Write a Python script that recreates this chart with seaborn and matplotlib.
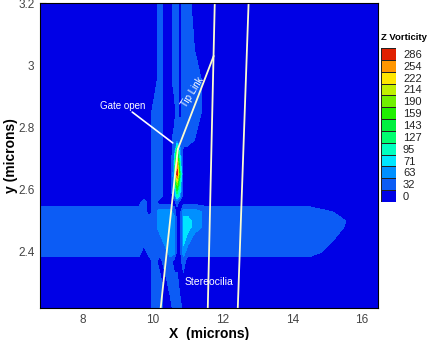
import numpy as np
import matplotlib
matplotlib.use("Agg")
import matplotlib.pyplot as plt
from matplotlib.colors import ListedColormap, BoundaryNorm
import seaborn as sns

x_vals = [6.77, 8.5, 9.3, 9.6, 9.75, 9.9, 10.05, 10.2, 10.35, 10.5, 10.62, 10.7,
          10.78, 10.88, 11.0, 11.2, 11.6, 12.5, 13.5, 14.5, 15.2, 15.7, 16.46]
y_vals = [2.22, 2.30, 2.37, 2.40, 2.44, 2.48, 2.50, 2.53, 2.56, 2.58, 2.62, 2.65,
          2.68, 2.72, 2.76, 2.85, 2.95, 3.05, 3.2]

vorticity = [
    [0, 0, 0, 0, 0, 0, 32, 32, 0, 0, 32, 32, 32, 0, 0, 0, 0, 0, 0, 0, 0, 0, 0],
    [0, 0, 0, 0, 0, 0, 32, 32, 0, 32, 32, 32, 0, 0, 0, 0, 0, 0, 0, 0, 0, 0, 0],
    [0, 0, 0, 0, 0, 0, 32, 0, 32, 32, 0, 0, 0, 32, 0, 0, 0, 0, 0, 0, 0, 0, 0],
    [32, 32, 32, 32, 0, 32, 32, 32, 32, 63, 63, 0, 0, 63, 32, 32, 32, 32, 32, 32, 0, 0, 0],
    [32, 32, 32, 32, 32, 32, 32, 32, 63, 63, 63, 0, 0, 71, 63, 32, 32, 32, 32, 32, 16, 0, 0],
    [32, 32, 32, 32, 32, 32, 32, 63, 63, 63, 63, 0, 0, 71, 71, 63, 32, 32, 32, 32, 32, 4, 0],
    [32, 32, 32, 32, 32, 32, 32, 63, 63, 63, 63, 0, 0, 71, 71, 63, 32, 32, 32, 32, 32, 8, 0],
    [32, 32, 32, 32, 32, 0, 32, 63, 63, 63, 32, 0, 0, 63, 63, 63, 32, 32, 32, 32, 14, 0, 0],
    [0, 0, 0, 0, 32, 0, 32, 0, 0, 0, 0, 32, 0, 0, 0, 0, 0, 0, 0, 0, 0, 0, 0],
    [0, 0, 0, 0, 0, 0, 32, 32, 0, 0, 32, 95, 63, 0, 0, 0, 0, 0, 0, 0, 0, 0, 0],
    [0, 0, 0, 0, 0, 0, 32, 32, 0, 0, 63, 190, 95, 0, 0, 0, 0, 0, 0, 0, 0, 0, 0],
    [0, 0, 0, 0, 0, 0, 32, 32, 0, 0, 71, 286, 127, 0, 0, 0, 0, 0, 0, 0, 0, 0, 0],
    [0, 0, 0, 0, 0, 0, 32, 32, 0, 0, 63, 254, 95, 0, 0, 0, 0, 0, 0, 0, 0, 0, 0],
    [0, 0, 0, 0, 0, 0, 32, 32, 0, 0, 32, 159, 63, 0, 0, 0, 0, 0, 0, 0, 0, 0, 0],
    [0, 0, 0, 0, 0, 0, 32, 32, 0, 0, 32, 32, 32, 32, 32, 16, 0, 0, 0, 0, 0, 0, 0],
    [0, 0, 0, 0, 0, 0, 32, 32, 0, 0, 0, 32, 0, 32, 32, 32, 0, 0, 0, 0, 0, 0, 0],
    [0, 0, 0, 0, 0, 0, 0, 32, 0, 0, 32, 32, 0, 32, 32, 32, 0, 0, 0, 0, 0, 0, 0],
    [0, 0, 0, 0, 0, 0, 0, 32, 0, 0, 32, 32, 0, 32, 32, 16, 0, 0, 0, 0, 0, 0, 0],
    [0, 0, 0, 0, 0, 0, 0, 32, 0, 0, 32, 32, 0, 32, 32, 0, 0, 0, 0, 0, 0, 0, 0],
]

# valores de la leyenda, de abajo hacia arriba
level_labels = [0, 32, 63, 71, 95, 127, 143, 159, 190, 214, 222, 254, 286]
band_colors = ["#0000e6", "#0c5cf5", "#0090ff", "#00e6ff", "#00ffc0", "#00ff70",
               "#00f040", "#20f000", "#70f000", "#c0f000", "#ffe600", "#ff9600", "#e02000"]

stereocilia_x = [[10.23, 10.72], [11.58, 11.78], [12.44, 12.75]]
stereocilia_y = [[2.22, 2.73], [2.22, 3.2], [2.22, 3.2]]
tip_link_x = [10.72, 11.75]
tip_link_y = [2.73, 3.03]

LINE_COLOR = "#fbfbd0"

sns.set_theme(style="ticks")
plt.rcParams["font.family"] = ["Liberation Sans", "DejaVu Sans"]

fig = plt.figure(figsize=(4.3, 3.4), dpi=100)
ax = fig.add_axes([40 / 430, 32 / 340, 338 / 430, 305 / 340])

mids = [(a + b) / 2 for a, b in zip(level_labels[:-1], level_labels[1:])]
bounds = [-20] + mids + [320]
cmap = ListedColormap(band_colors)
norm = BoundaryNorm(bounds, cmap.N)
ax.contourf(x_vals, y_vals, np.array(vorticity), levels=bounds, cmap=cmap, norm=norm)

# cilios y tip link
for xs, ys in zip(stereocilia_x, stereocilia_y):
    sns.lineplot(x=xs, y=ys, ax=ax, sort=False, color=LINE_COLOR, lw=1.3, errorbar=None)
sns.lineplot(x=tip_link_x, y=tip_link_y, ax=ax, sort=False, color=LINE_COLOR, lw=1.3, errorbar=None)

ax.annotate("", xy=(10.64, 2.745), xytext=(9.35, 2.855),
            arrowprops=dict(arrowstyle="-", color="white", lw=1.2))
ax.text(9.15, 2.87, "Gate open", color="white", fontsize=7, ha="center", va="center")
ax.text(11.15, 2.914, "Tip Link", color="white", fontsize=7, rotation=58, ha="center", va="center")
ax.text(11.62, 2.305, "Stereocilia", color="white", fontsize=7.5, ha="center", va="center")

ax.set_xlim(6.77, 16.46)
ax.set_ylim(2.22, 3.2)
ax.set_xticks([8, 10, 12, 14, 16])
ax.set_yticks([2.4, 2.6, 2.8, 3.0, 3.2])
ax.set_yticklabels(["2.4", "2.6", "2.8", "3", "3.2"])
ax.tick_params(direction="in", length=4, width=0.8, color="black", labelsize=8.5,
               labelcolor="#444444", pad=4)
ax.set_xlabel("X  (microns)", fontsize=10, fontweight="bold", labelpad=1, color="black")
ax.set_ylabel("y (microns)", fontsize=10, fontweight="bold", labelpad=0, color="black")
for s in ax.spines.values():
    s.set_linewidth(0.8)
    s.set_color("black")

# leyenda de bandas
cax = fig.add_axes([381 / 430, (340 - 202) / 340, 15 / 430, 154 / 340])
bands = np.arange(len(level_labels))[::-1].reshape(-1, 1)
sns.heatmap(bands, ax=cax, cmap=cmap, cbar=False, linewidths=0.4, linecolor="#222222",
            xticklabels=False, yticklabels=[str(v) for v in level_labels[::-1]])
cax.yaxis.tick_right()
cax.tick_params(axis="y", length=0, labelsize=8, labelcolor="#222222", pad=5, rotation=0)
fig.text(381 / 430, (340 - 38) / 340, "Z Vorticity", fontsize=6.8, fontweight="bold",
         ha="left", va="center", color="black")

fig.savefig("out.png", dpi=100)
